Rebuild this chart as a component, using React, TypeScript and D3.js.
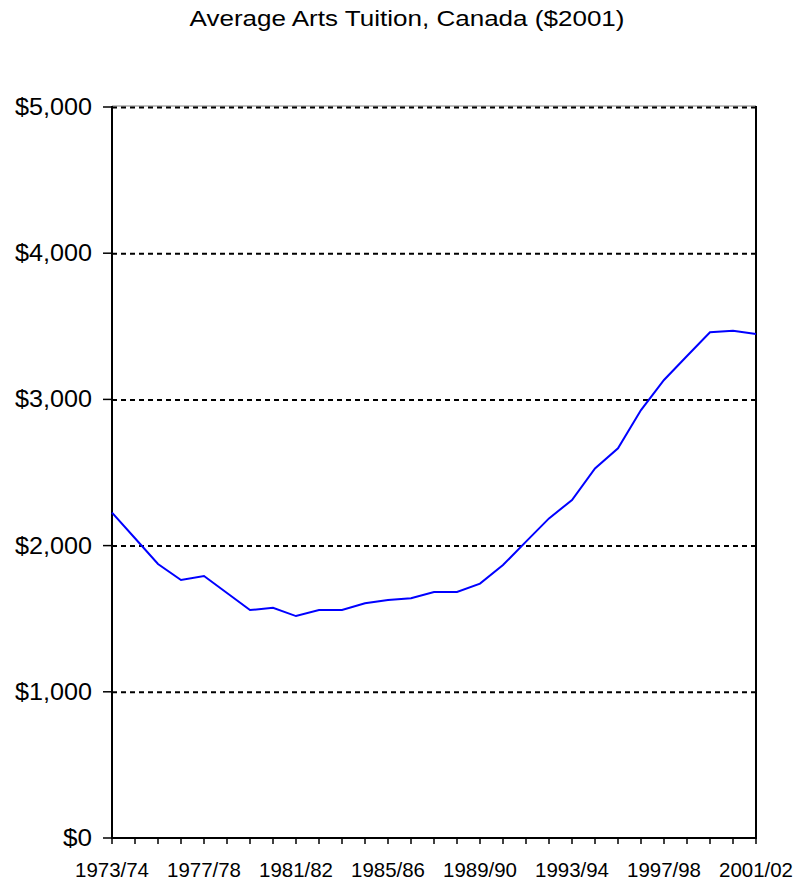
import React from "react";
import * as d3 from "d3";

const years: string[] = [
  "1973/74", "1974/75", "1975/76", "1976/77", "1977/78", "1978/79", "1979/80",
  "1980/81", "1981/82", "1982/83", "1983/84", "1984/85", "1985/86", "1986/87",
  "1987/88", "1988/89", "1989/90", "1990/91", "1991/92", "1992/93", "1993/94",
  "1994/95", "1995/96", "1996/97", "1997/98", "1998/99", "1999/00", "2000/01",
  "2001/02",
];

const tuition: number[] = [
  2225, 2050, 1874, 1765, 1792, 1676, 1559, 1575, 1518, 1559, 1559, 1605, 1628,
  1640, 1683, 1683, 1740, 1867, 2027, 2186, 2312, 2528, 2665, 2927, 3133, 3297,
  3459, 3470, 3447,
];

const xTickLabels: string[] = ["1973/74", "1977/78", "1981/82", "1985/86", "1989/90", "1993/94", "1997/98", "2001/02"];
const yTicks: number[] = [0, 1000, 2000, 3000, 4000, 5000];
const yGrid: number[] = [1000, 2000, 3000, 4000, 5000];

const title = "Average Arts Tuition, Canada ($2001)";

export default function App() {
  const W = 802;
  const H = 884;
  const left = 112;
  const right = 756;
  const top = 107;
  const bottom = 838;

  const x = d3.scalePoint<string>().domain(years).range([left, right]);
  const y = d3.scaleLinear().domain([0, 5000]).range([bottom, top]);

  const line = d3
    .line<number>()
    .x((_, i) => x(years[i]) as number)
    .y((d) => y(d));

  const fmt = (v: number) => "$" + d3.format(",")(v);
  const font = "Arial, 'Liberation Sans', sans-serif";

  return (
    <svg
      width={W}
      height={H}
      style={{ position: "absolute", left: 0, top: 0, background: "#fff" }}
      fontFamily={font}
    >
      <rect x={0} y={0} width={W} height={H} fill="#fff" />
      <text
        x={407}
        y={26}
        textAnchor="middle"
        fontSize={22}
        textLength={435}
        lengthAdjust="spacingAndGlyphs"
        fill="#000"
      >
        {title}
      </text>

      {/* top border */}
      <line x1={left} x2={right} y1={top - 1} y2={top - 1} stroke="#808080" strokeWidth={1} />

      {/* grid */}
      {yGrid.map((v) => (
        <line
          key={"g" + v}
          x1={left}
          x2={right}
          y1={y(v) + 0.5}
          y2={y(v) + 0.5}
          stroke="#000"
          strokeWidth={2}
          strokeDasharray="5,4"
        />
      ))}

      {/* axes */}
      <line x1={left} x2={left} y1={top - 1} y2={bottom + 1} stroke="#000" strokeWidth={2} />
      <line x1={right} x2={right} y1={top - 1} y2={bottom + 1} stroke="#000" strokeWidth={2} />
      <line x1={left - 1} x2={right + 1} y1={bottom} y2={bottom} stroke="#000" strokeWidth={2} />

      {/* y ticks */}
      {yTicks.map((v) => (
        <g key={"y" + v}>
          <line x1={left - 9} x2={left} y1={y(v)} y2={y(v)} stroke="#000" strokeWidth={1.5} />
          <text
            x={92}
            y={y(v) + 8}
            textAnchor="end"
            fontSize={23}
            textLength={v === 0 ? 29 : 77}
            lengthAdjust="spacingAndGlyphs"
            fill="#000"
          >
            {fmt(v)}
          </text>
        </g>
      ))}

      {/* x ticks */}
      {years.map((yr) => (
        <line
          key={"t" + yr}
          x1={x(yr)}
          x2={x(yr)}
          y1={bottom}
          y2={bottom + 6}
          stroke="#000"
          strokeWidth={1.5}
        />
      ))}
      {xTickLabels.map((lbl) => (
        <text
          key={"xl" + lbl}
          x={x(lbl)}
          y={877}
          textAnchor="middle"
          fontSize={21}
          textLength={74}
          lengthAdjust="spacingAndGlyphs"
          fill="#000"
        >
          {lbl}
        </text>
      ))}

      <path d={line(tuition) || ""} fill="none" stroke="#0000FF" strokeWidth={2} />
    </svg>
  );
}
